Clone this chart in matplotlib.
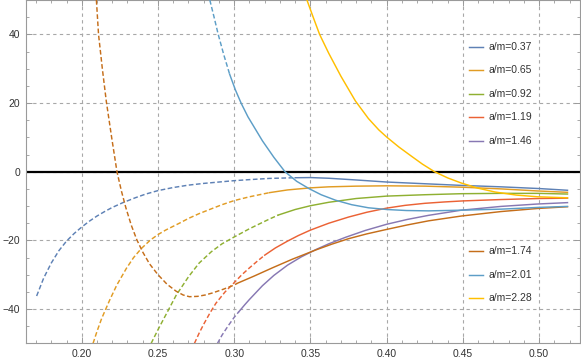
import matplotlib
matplotlib.use('Agg')
import matplotlib.pyplot as plt
from matplotlib.ticker import MultipleLocator, FormatStrFormatter

plt.rcParams['font.family'] = ['Liberation Sans', 'DejaVu Sans']
plt.rcParams['axes.unicode_minus'] = True

# ---------------- data ----------------
labels = ["a/m=0.37", "a/m=0.65", "a/m=0.92", "a/m=1.19",
          "a/m=1.46", "a/m=1.74", "a/m=2.01", "a/m=2.28"]
colors = ["#5E81B5", "#E19C24", "#8FB032", "#EB6235",
          "#8778B3", "#C56E1A", "#5D9EC7", "#FFBF00"]

x1 = [0.1704, 0.175, 0.180, 0.185, 0.190, 0.195, 0.200, 0.205, 0.210, 0.215,
      0.220, 0.227, 0.235, 0.242, 0.250, 0.260, 0.270, 0.280, 0.290, 0.300,
      0.310, 0.323, 0.340, 0.350, 0.362, 0.380, 0.400, 0.425, 0.450, 0.475,
      0.500, 0.5186]
y1 = [-36.2, -31.0, -26.6, -23.0, -20.2, -18.0, -16.1, -14.4, -12.9, -11.6,
      -10.4, -9.0, -7.6, -6.5, -5.5, -4.6, -3.9, -3.4, -3.0, -2.6,
      -2.3, -1.95, -1.75, -1.7, -1.9, -2.4, -3.0, -3.5, -4.0, -4.4,
      -4.9, -5.4]

x2 = [0.2074, 0.210, 0.213, 0.2183, 0.223, 0.2292, 0.234, 0.239, 0.245,
      0.250, 0.255, 0.264, 0.270, 0.277, 0.285, 0.292, 0.300, 0.310, 0.323,
      0.335, 0.350, 0.362, 0.380, 0.400, 0.425, 0.449, 0.475, 0.499, 0.5186]
y2 = [-50.0, -46.5, -42.8, -37.4, -33.0, -28.2, -25.0, -22.4, -19.9,
      -18.3, -17.0, -15.0, -13.6, -12.2, -10.8, -9.6, -8.4, -7.3, -6.1,
      -5.3, -4.7, -4.4, -4.2, -4.1, -4.2, -4.5, -5.0, -5.6, -6.0]

x3 = [0.2455, 0.250, 0.255, 0.2619, 0.270, 0.277, 0.285, 0.292, 0.300,
      0.310, 0.323, 0.329, 0.340, 0.350, 0.362, 0.380, 0.400, 0.425, 0.449,
      0.475, 0.499, 0.5186]
y3 = [-50.0, -46.0, -41.8, -36.0, -30.6, -26.6, -23.3, -21.0, -19.0,
      -16.6, -13.8, -12.6, -11.0, -9.9, -8.9, -7.8, -7.1, -6.7, -6.4,
      -6.3, -6.3, -6.5]

x4 = [0.2739, 0.277, 0.280, 0.284, 0.288, 0.294, 0.300, 0.305, 0.310,
      0.315, 0.320, 0.327, 0.335, 0.342, 0.350, 0.362, 0.375, 0.387, 0.400,
      0.412, 0.425, 0.438, 0.450, 0.475, 0.500, 0.5186]
y4 = [-50.0, -47.0, -44.4, -41.2, -38.3, -35.0, -32.3, -30.0, -28.0,
      -26.1, -24.3, -22.2, -20.2, -18.6, -17.0, -15.0, -13.2, -11.8, -10.6,
      -9.8, -9.2, -8.8, -8.5, -8.1, -7.8, -7.7]

x5 = [0.289, 0.292, 0.296, 0.300, 0.303, 0.307, 0.310, 0.3185, 0.326,
      0.335, 0.344, 0.3534, 0.362, 0.373, 0.386, 0.400, 0.4135, 0.4275,
      0.449, 0.475, 0.499, 0.5186]
y5 = [-50.0, -47.6, -44.9, -42.4, -40.8, -38.7, -37.2, -33.2, -30.2,
      -27.2, -24.8, -22.7, -21.0, -19.1, -17.1, -15.3, -13.9, -12.7,
      -11.2, -10.1, -9.4, -9.0]

x6 = [0.2096, 0.2110, 0.2135, 0.2161, 0.2196, 0.2231, 0.2260, 0.2290,
      0.2325, 0.2361, 0.240, 0.2444, 0.250, 0.256, 0.2619, 0.2665, 0.2706,
      0.276, 0.281, 0.2858, 0.293, 0.300, 0.302, 0.313, 0.325, 0.338,
      0.3534, 0.364, 0.375, 0.387, 0.400, 0.4135, 0.4275, 0.449, 0.475,
      0.499, 0.5186]
y6 = [50.0, 40.0, 30.0, 20.5, 10.0, 0.0, -5.6, -10.6,
      -15.6, -19.8, -23.4, -26.8, -30.0, -32.8, -34.8, -35.9, -36.4,
      -36.3, -35.9, -35.3, -34.2, -33.0, -32.5, -30.4, -28.0, -25.5,
      -22.8, -21.1, -19.5, -18.1, -16.8, -15.5, -14.3, -12.9, -11.6,
      -10.7, -10.2]

x7 = [0.284, 0.2868, 0.2895, 0.2932, 0.297, 0.3008, 0.3046, 0.309, 0.3185,
      0.326, 0.3333, 0.341, 0.349, 0.357, 0.3665, 0.377, 0.388, 0.400,
      0.413, 0.4275, 0.449, 0.475, 0.499, 0.5186]
y7 = [50.0, 45.0, 40.0, 34.0, 28.4, 23.8, 19.9, 16.0, 9.0,
      4.2, 0.0, -2.8, -4.9, -6.7, -8.3, -9.6, -10.5, -11.0,
      -11.3, -11.4, -11.2, -10.9, -10.4, -10.1]

x8 = [0.3477, 0.3518, 0.356, 0.362, 0.370, 0.3795, 0.388, 0.3948, 0.400,
      0.408, 0.416, 0.4235, 0.4314, 0.440, 0.449, 0.460, 0.471, 0.485,
      0.499, 0.5186]
y8 = [50.0, 45.0, 40.0, 34.5, 27.8, 20.6, 15.5, 12.2, 10.1,
      7.2, 4.6, 2.2, 0.0, -1.8, -3.3, -4.8, -5.9, -6.8,
      -7.3, -7.6]

# x where each curve changes from dashed (left) to solid (right)
split_x = [0.340, 0.323, 0.329, 0.320, 0.303, 0.302, 0.297, 0.0]

xs = [x1, x2, x3, x4, x5, x6, x7, x8]
ys = [y1, y2, y3, y4, y5, y6, y7, y8]

x_ticks = [0.20, 0.25, 0.30, 0.35, 0.40, 0.45, 0.50]
y_ticks = [-40, -20, 0, 20, 40]

# ---------------- figure ----------------
fig = plt.figure(figsize=(5.81, 3.62), dpi=100)
ax = fig.add_axes([25.5 / 581, 18.6 / 362, 554.5 / 581, 343.0 / 362])
ax.set_xlim(0.1631, 0.5268)
ax.set_ylim(-50, 49.9)

frame_c = "#9a9a9a"
for s in ax.spines.values():
    s.set_color(frame_c)
    s.set_linewidth(0.8)

ax.set_xticks(x_ticks)
ax.set_yticks(y_ticks)
ax.xaxis.set_major_formatter(FormatStrFormatter('%.2f'))
ax.xaxis.set_minor_locator(MultipleLocator(0.01))
ax.yaxis.set_minor_locator(MultipleLocator(5))
ax.tick_params(which='both', direction='in', top=True, right=True,
               color=frame_c, labelsize=7.5, labelcolor='#333333')
ax.tick_params(which='major', length=4, width=0.7)
ax.tick_params(which='minor', length=2.2, width=0.6)
ax.tick_params(axis='x', pad=4)
ax.tick_params(axis='y', pad=4)

ax.grid(True, which='major', color='#a8a8a8', linestyle=(0, (3, 3)),
        linewidth=0.8)
ax.set_axisbelow(True)

ax.axhline(0, color='black', linewidth=1.6, zorder=1.8)

dash = (0, (3.2, 1.7))
for x, y, c, sx in zip(xs, ys, colors, split_x):
    i = next((k for k, v in enumerate(x) if v >= sx), 0)
    if i > 0:
        ax.plot(x[:i + 1], y[:i + 1], color=c, linewidth=1.05,
                linestyle=dash, zorder=3)
    ax.plot(x[i:], y[i:], color=c, linewidth=1.05, zorder=3)

# ---------------- legend (two groups, no frame) ----------------
lx0, lx1, tx = 0.7998, 0.8242, 0.835
group1_top, group2_top, step = 0.8644, 0.2688, 0.0684
rows = [group1_top - step * k for k in range(5)] + \
       [group2_top - step * k for k in range(3)]
for lab, c, ry in zip(labels, colors, rows):
    ax.plot([lx0, lx1], [ry, ry], color=c, linewidth=1.05,
            transform=ax.transAxes, zorder=4)
    ax.text(tx, ry, lab, transform=ax.transAxes, fontsize=7.5,
            color='#333333', va='center', ha='left', zorder=4)

fig.savefig('out.png', dpi=100)
